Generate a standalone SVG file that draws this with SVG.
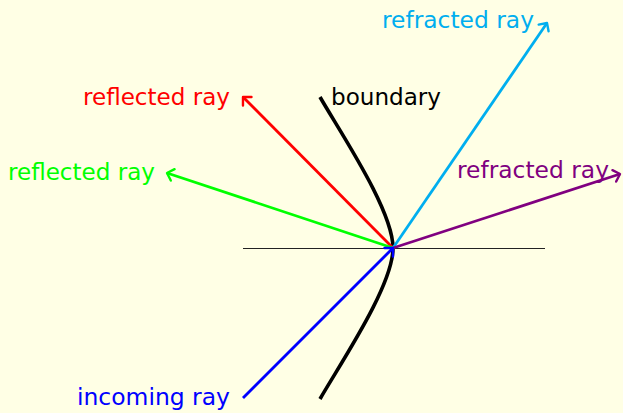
<svg xmlns="http://www.w3.org/2000/svg" width="623" height="413" viewBox="0 0 623 413">
<style>
text{font-family:"DejaVu Sans","Liberation Sans",sans-serif;font-size:23px}
.ray{fill:none;stroke-width:2.8}
.head{fill:none;stroke-width:2.4;stroke-linecap:round;stroke-linejoin:round}
</style>
<defs>
<marker id="mRed" viewBox="-9 -8 12 16" markerWidth="12" markerHeight="16" refX="0" refY="0" orient="auto" markerUnits="userSpaceOnUse" overflow="visible"><path class="head" stroke="#FF0000" d="M-6,-6 Q-1.5,-1.5 0,0 Q-1.5,1.5 -6,6"/></marker>
<marker id="mGreen" viewBox="-9 -8 12 16" markerWidth="12" markerHeight="16" refX="0" refY="0" orient="auto" markerUnits="userSpaceOnUse" overflow="visible"><path class="head" stroke="#00FF00" d="M-6,-6 Q-1.5,-1.5 0,0 Q-1.5,1.5 -6,6"/></marker>
<marker id="mCyan" viewBox="-9 -8 12 16" markerWidth="12" markerHeight="16" refX="0" refY="0" orient="auto" markerUnits="userSpaceOnUse" overflow="visible"><path class="head" stroke="#00AEEF" d="M-6,-6 Q-1.5,-1.5 0,0 Q-1.5,1.5 -6,6"/></marker>
<marker id="mPurple" viewBox="-9 -8 12 16" markerWidth="12" markerHeight="16" refX="0" refY="0" orient="auto" markerUnits="userSpaceOnUse" overflow="visible"><path class="head" stroke="#800080" d="M-6,-6 Q-1.5,-1.5 0,0 Q-1.5,1.5 -6,6"/></marker>
<marker id="mBlue" viewBox="-9 -8 12 16" markerWidth="12" markerHeight="16" refX="0" refY="0" orient="auto" markerUnits="userSpaceOnUse" overflow="visible"><path class="head" stroke="#0000FF" d="M-6,-6 Q-1.5,-1.5 0,0 Q-1.5,1.5 -6,6"/></marker>
</defs>
<rect x="0" y="0" width="623" height="413" fill="#FFFFE5"/>
<g id="axis"><line x1="243" y1="248.5" x2="545" y2="248.5" stroke="#222" stroke-width="1"/></g>
<g id="boundary">
<path d="M320,97 C340,132 393,210 393,248 C393,286 340,364 320,399" fill="none" stroke="#000" stroke-width="3.6"/>
<text x="331" y="105" fill="#000" textLength="110" lengthAdjust="spacingAndGlyphs">boundary</text>
</g>
<g id="connectors">
<line class="ray" x1="393" y1="248" x2="243" y2="97" stroke="#FF0000" marker-end="url(#mRed)"/>
<line class="ray" x1="393" y1="248" x2="167" y2="173" stroke="#00FF00" marker-end="url(#mGreen)"/>
<line class="ray" x1="393" y1="248" x2="547" y2="23" stroke="#00AEEF" marker-end="url(#mCyan)"/>
<line class="ray" x1="393" y1="248" x2="620" y2="174" stroke="#800080" marker-end="url(#mPurple)"/>
<line class="ray" x1="243" y1="398" x2="393" y2="248" stroke="#0000FF" marker-end="url(#mBlue)"/>
</g>
<g id="reflected-red"><text x="230" y="105" text-anchor="end" fill="#FF0000" textLength="147" lengthAdjust="spacingAndGlyphs">reflected ray</text></g>
<g id="reflected-green"><text x="155" y="180" text-anchor="end" fill="#00FF00" textLength="147" lengthAdjust="spacingAndGlyphs">reflected ray</text></g>
<g id="refracted-cyan"><text x="534" y="28" text-anchor="end" fill="#00AEEF" textLength="152" lengthAdjust="spacingAndGlyphs">refracted ray</text></g>
<g id="refracted-purple"><text x="609" y="178" text-anchor="end" fill="#800080" textLength="152" lengthAdjust="spacingAndGlyphs">refracted ray</text></g>
<g id="incoming"><text x="230" y="405" text-anchor="end" fill="#0000FF" textLength="153" lengthAdjust="spacingAndGlyphs">incoming ray</text></g>
</svg>
